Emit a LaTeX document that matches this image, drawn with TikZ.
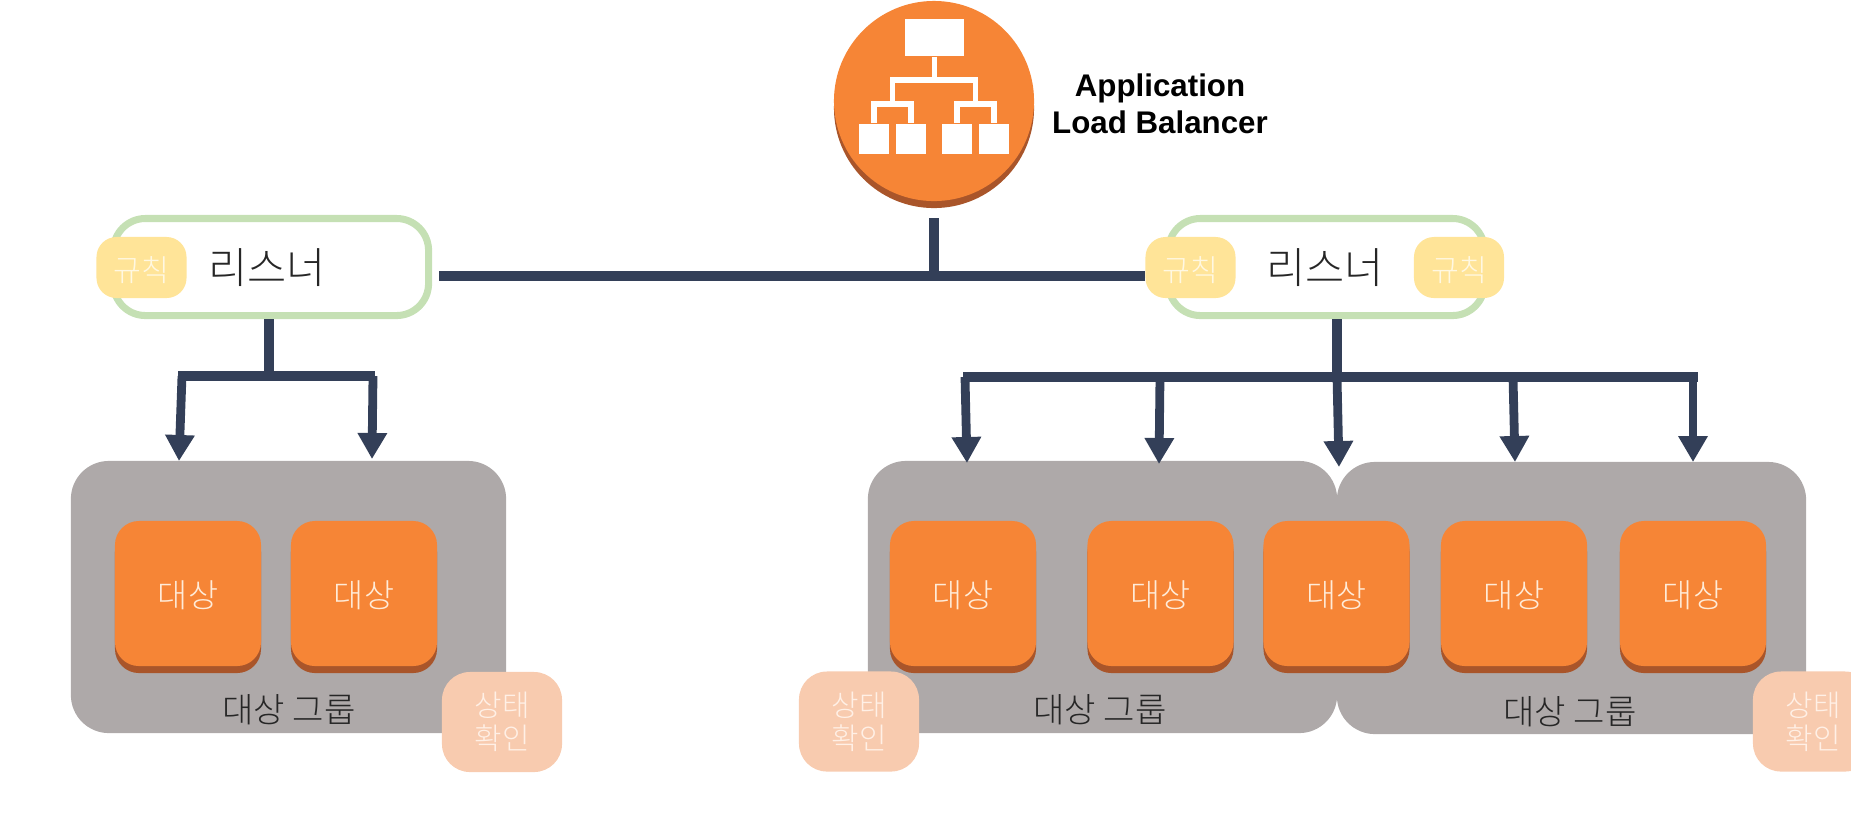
\documentclass[tikz,border=0pt]{standalone}
\usepackage{fontspec}
\setmainfont{Liberation Sans}
\newfontfamily\krfont{Noto Sans CJK KR Light}
\usepackage{tikz}
\usetikzlibrary{arrows.meta}

\definecolor{albinfo}{HTML}{F68536}
\definecolor{albshade}{HTML}{A9552A}
\definecolor{groupgray}{HTML}{AEA9A9}
\definecolor{busline}{HTML}{333F58}
\definecolor{listenerline}{HTML}{C5E0B4}
\definecolor{rulefill}{HTML}{FFE498}
\definecolor{rulefont}{HTML}{FFF8E2}
\definecolor{checkfill}{HTML}{F8CBAF}
\definecolor{checkfont}{HTML}{FFF0E6}
\definecolor{targetfont}{HTML}{FFEBD8}

\tikzset{
  listenerbox/.style={draw=listenerline,line width=2pt,fill=white,rounded corners=0.32cm,
    minimum width=3.15cm,minimum height=0.97cm,inner sep=0pt},
  listenertext/.style={font=\krfont\fontsize{12.1}{14}\selectfont,text=black!85},
  rulebox/.style={fill=rulefill,rounded corners=0.2cm,minimum width=0.9cm,minimum height=0.61cm,
    inner sep=0pt,text=rulefont,text height=0.3cm,text depth=0.02cm,font=\krfont\fontsize{8.6}{10}\selectfont},
  groupbox/.style={fill=groupgray,rounded corners=0.38cm,minimum height=2.72cm,inner sep=0pt},
  grouptext/.style={text=black!85,font=\krfont\fontsize{9.7}{12}\selectfont},
  targetshade/.style={fill=albshade,rounded corners=0.24cm,minimum width=1.46cm,minimum height=1.45cm,inner sep=0pt},
  targetbox/.style={fill=albinfo,rounded corners=0.24cm,minimum width=1.46cm,minimum height=1.45cm,inner sep=0pt,
    text=targetfont,text height=0.32cm,text depth=0.04cm,font=\krfont\fontsize{9.3}{11}\selectfont},
  checkbox/.style={fill=checkfill,rounded corners=0.28cm,minimum width=1.2cm,minimum height=1cm,inner sep=0pt,
    text=checkfont,align=center,font=\krfont\fontsize{8.5}{9.4}\selectfont},
  bus/.style={draw=busline,line width=2.6pt},
  feed/.style={draw=busline,line width=2.5pt,-{Triangle[length=0.26cm,width=0.28cm]}},
  iconbox/.style={fill=white,inner sep=0pt},
  iconline/.style={draw=white,line width=1.6pt}
}

\begin{document}
\begin{tikzpicture}[x=0.01cm,y=-0.01cm]
\path[use as bounding box,clip] (0,0) rectangle (1851,829);

% balancer
\fill[albshade] (934,108) circle (1cm);
\fill[albinfo] (934,101) circle (1cm);
\node[iconbox,minimum width=0.59cm,minimum height=0.37cm] (top) at (934.5,37.5) {};
\node[iconbox,minimum size=0.3cm] (leafa) at (874,139) {};
\node[iconbox,minimum size=0.3cm] (leafb) at (911,139) {};
\node[iconbox,minimum size=0.3cm] (leafc) at (957,139) {};
\node[iconbox,minimum size=0.3cm] (leafd) at (994,139) {};
\coordinate (hub) at (934.5,80);
\coordinate (huba) at (892.5,104);
\coordinate (hubb) at (975.5,104);
\draw[iconline] (top) -- (hub);
\draw[iconline] (huba) |- (hub) -| (hubb);
\draw[iconline] (leafa) |- (huba) -| (leafb);
\draw[iconline] (leafc) |- (hubb) -| (leafd);
\node[font=\bfseries\fontsize{8.9}{10.5}\selectfont,align=center,text=black] (albname) at (1160,103.5) {Application\\Load Balancer};

% listeners
\node[listenerbox] (listenerl) at (271,267) {};
\node[listenerbox,minimum width=3.16cm] (listenerr) at (1326.5,267) {};
\node[rulebox] (rulel) at (141.5,267.5) {규칙};
\node[rulebox] (rulem) at (1190.5,267.5) {규칙};
\node[rulebox] (ruler) at (1459,267.5) {규칙};
\node[listenertext] (textl) at (267,268) {리스너};
\node[listenertext] (textr) at (1325,268) {리스너};

% groups
\node[groupbox,minimum width=4.35cm] (groupl) at (288.5,597) {};
\node[groupbox,minimum width=4.69cm] (groupb) at (1571.5,598) {};
\node[groupbox,minimum width=4.69cm] (groupa) at (1102.5,597) {};
\fill[groupgray] (1300,505) rectangle (1375,700);

% targets
\node[targetshade] at (188,600.5) {};
\node[targetshade] at (364,600.5) {};
\node[targetshade] at (963,600.5) {};
\node[targetshade] at (1160.5,600.5) {};
\node[targetshade] at (1336.5,600.5) {};
\node[targetshade] at (1514,600.5) {};
\node[targetshade] at (1693,600.5) {};
\node[targetbox] (targeta) at (188,593.5) {대상};
\node[targetbox] (targetb) at (364,593.5) {대상};
\node[targetbox] (targetc) at (963,593.5) {대상};
\node[targetbox] (targetd) at (1160.5,593.5) {대상};
\node[targetbox] (targete) at (1336.5,593.5) {대상};
\node[targetbox] (targetf) at (1514,593.5) {대상};
\node[targetbox] (targetg) at (1693,593.5) {대상};
\node[grouptext] (namel) at (289,710) {대상 그룹};
\node[grouptext] (namea) at (1100,710) {대상 그룹};
\node[grouptext] (nameb) at (1570,712) {대상 그룹};

% health checks
\node[checkbox] (checkl) at (502,722) {상태\\확인};
\node[checkbox] (checka) at (859,721.5) {상태\\확인};
\node[checkbox] (checkb) at (1813,721.5) {상태\\확인};

% connectors
\coordinate (albfoot) at (934,218);
\coordinate (junction) at (934,276);
\coordinate (busend) at (439,276);
\draw[bus] (albfoot) -- (junction);
\draw[bus] (busend) -- (rulem.west |- junction);
\coordinate (forkl) at (269,376);
\coordinate (forkla) at (178,376);
\coordinate (forklb) at (375,376);
\coordinate (forkr) at (1337,377);
\coordinate (forkra) at (963,377);
\coordinate (forkrb) at (1698,377);
\draw[bus] (listenerl.south -| forkl) -- (forkl);
\draw[bus] (forkla) -- (forklb);
\draw[bus] (listenerr.south -| forkr) -- (forkr);
\draw[bus] (forkra) -- (forkrb);
\coordinate (taila) at (182,376);
\coordinate (tailb) at (373,376);
\coordinate (tailc) at (965,377);
\coordinate (taild) at (1160,377);
\coordinate (tailf) at (1513,377);
\coordinate (tailg) at (1693,377);
\coordinate (tipa) at (179,461);
\coordinate (tipb) at (372,459);
\coordinate (tipc) at (967,463);
\coordinate (tipd) at (1159,464);
\coordinate (tipe) at (1339,467);
\coordinate (tipf) at (1515,462);
\coordinate (tipg) at (1693,462);
\draw[feed] (taila) -- (tipa);
\draw[feed] (tailb) -- (tipb);
\draw[feed] (tailc) -- (tipc);
\draw[feed] (taild) -- (tipd);
\draw[feed] (forkr) -- (tipe);
\draw[feed] (tailf) -- (tipf);
\draw[feed] (tailg) -- (tipg);
\end{tikzpicture}
\end{document}
